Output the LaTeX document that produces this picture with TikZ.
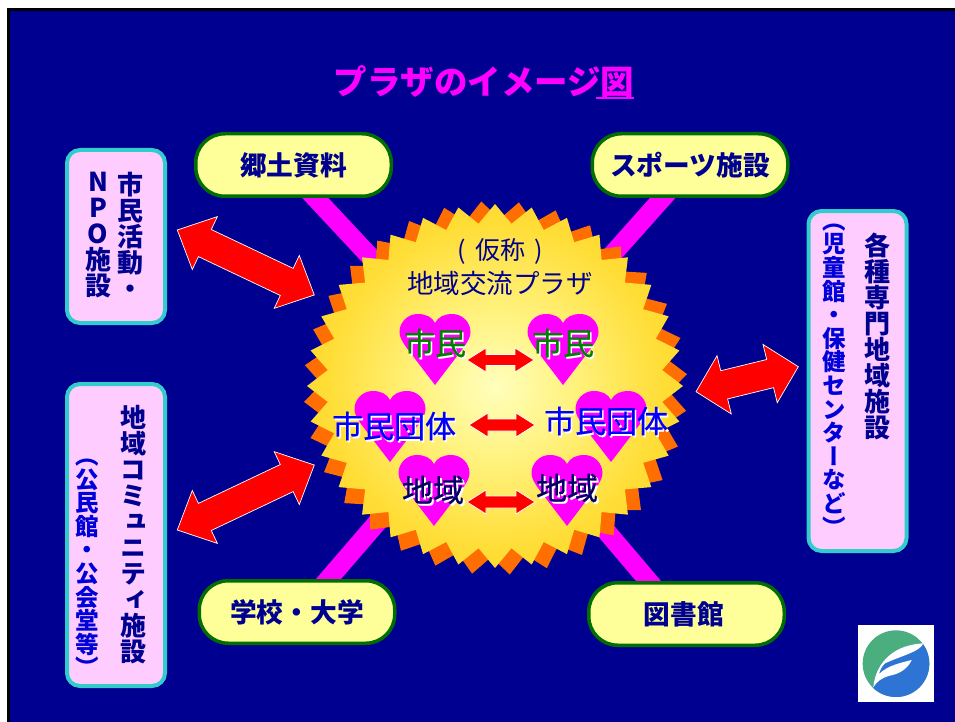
\documentclass[tikz,border=0pt]{standalone}
\usepackage{fontspec}
\usetikzlibrary{calc}
\setmainfont{Noto Sans CJK JP}
\newfontfamily\vfont[RawFeature=+vert]{Noto Sans CJK JP}
\newfontfamily\semifont[FakeBold=0.5]{Noto Sans CJK JP}
\definecolor{navy}{HTML}{000090}
\definecolor{mag}{HTML}{FF00FF}
\definecolor{pillfill}{HTML}{FFFF99}
\definecolor{pillline}{HTML}{006F00}
\definecolor{cardfill}{HTML}{FFCCFF}
\definecolor{cardline}{HTML}{33CCCC}
\definecolor{burstorange}{HTML}{FF6E00}
\definecolor{subblue}{HTML}{0000D8}
\definecolor{logogreen}{HTML}{4BAE7E}
\definecolor{logoblue}{HTML}{2E74D4}
\pgfdeclareradialshading{burstshade}{\pgfpoint{0bp}{0bp}}{%
 rgb(0bp)=(1,1,0.74);
 rgb(10bp)=(1,0.95,0.5);
 rgb(22bp)=(1,0.87,0.22);
 rgb(36bp)=(1,0.81,0.09);
 rgb(50bp)=(1,0.785,0.0)}
\pgfdeclarelayer{backdrop}
\pgfdeclarelayer{bars}
\pgfsetlayers{backdrop,bars,main}
\def\vtloop#1{\ifx#1\vtend\else\hbox to1.2em{\hss#1\hss}\expandafter\vtloop\fi}
\def\vstack#1#2#3{\vbox{\vfont\fontsize{#1}{#1}\selectfont\baselineskip=#2pt\lineskiplimit=-1000pt\relax\vtloop#3\vtend}}
\newcommand\blockarrow[5]{%
 \coordinate (p1) at ($(#1)!#3pt!(#2)$);
 \coordinate (p2) at ($(#2)!#3pt!(#1)$);
 \draw[blockarr] (#1) -- ($(p1)!#5pt!90:(#2)$) -- ($(p1)!#4pt!90:(#2)$)
   -- ($(p2)!#4pt!-90:(#1)$) -- ($(p2)!#5pt!-90:(#1)$) -- (#2)
   -- ($(p2)!#5pt!90:(#1)$) -- ($(p2)!#4pt!90:(#1)$)
   -- ($(p1)!#4pt!-90:(#2)$) -- ($(p1)!#5pt!-90:(#2)$) -- cycle;}
\newcommand\heartat[2]{%
 \fill[mag,shift={(#1,#2)}] (0,71) -- (-29,33) .. controls (-33,27) and (-35.5,23) .. (-35.5,18)
  .. controls (-35.5,8) and (-27,0) .. (-17.5,0) .. controls (-9,0) and (-3,3) .. (0,9)
  .. controls (3,3) and (9,0) .. (17.5,0) .. controls (27,0) and (35.5,8) .. (35.5,18)
  .. controls (35.5,23) and (33,27) .. (29,33) -- cycle;}
\tikzset{
 x=1pt,y=-1pt,
 pill/.style={draw=pillline,fill=pillfill,line width=3.5pt,rounded corners=29pt,minimum width=195.5pt,minimum height=62.5pt,inner sep=0pt,text=navy,font=\fontsize{26.7}{27}\selectfont\bfseries},
 card/.style={draw=cardline,fill=cardfill,line width=4pt,rounded corners=13pt,inner sep=0pt,minimum width=98pt},
 bar/.style={mag,line width=19pt},
 blockarr/.style={fill=red,draw=white,line width=.7pt,line join=miter},
 plain/.style={inner sep=0pt,outer sep=0pt},
 stackA/.style={plain,text=navy,font=\bfseries},
 stackB/.style={plain,text=subblue,font=\bfseries},
 hearttext/.style={plain,font=\semifont\fontsize{31}{31}\selectfont},
 shadowtext/.style={plain,text=white,font=\semifont\fontsize{31}{31}\selectfont},
}
\begin{document}
\begin{tikzpicture}
\useasboundingbox (0,0) rectangle (955,722);
\begin{pgfonlayer}{backdrop}
 \fill[white] (0,0) rectangle (955,722);
 \fill[black] (7,8) rectangle (955,722);
 \fill[navy] (10,11) rectangle (955,722);
\end{pgfonlayer}

\coordinate (burst) at (495,386);

% starbursts
\fill[burstorange] plot[samples at={0,...,63},variable=\k] ({495.5+(mod(\k,2)==0?192:174)*cos(\k*5.625+97)},{388+(mod(\k,2)==0?187:169)*sin(\k*5.625+97)}) -- cycle;
\path[shading=burstshade] plot[samples at={0,...,63},variable=\k] ({495+(mod(\k,2)==0?188:168)*cos(\k*5.625)},{386+(mod(\k,2)==0?182:163)*sin(\k*5.625)}) -- cycle;

% pills
\node[pill] (kyodo) at (293.5,165) {郷土資料};
\node[pill] (sports) at (690,165) {スポーツ施設};
\node[pill] (school) at (297,612) {\raisebox{-2pt}{学校・大学}};
\node[pill] (library) at (686.5,614) {\raisebox{-2pt}{図書館}\kern5pt};

% cards
\node[card,minimum height=173pt] (npo) at (116,236.5) {};
\node[card,minimum height=302pt] (community) at (116,535) {};
\node[card,minimum height=340pt] (special) at (857.5,381) {};

% bars
\begin{pgfonlayer}{bars}
 \draw[bar] ($(kyodo)+(-9,0)$) -- ($(burst)+(-4,0)$);
 \draw[bar] ($(sports)+(2,0)$) -- (burst);
 \draw[bar] ($(school)+(3,0)$) -- (burst);
 \draw[bar] ($(library)+(-10,0)$) -- ($(burst)+(-12,0)$);
\end{pgfonlayer}

% title
\node[plain,text=mag,font=\fontsize{33.5}{34}\selectfont\bfseries] (title) at (484,82) {プラザのイメージ図};
\draw[mag,line width=2pt] ($(title.south east)+(-38,0)$) -- (title.south east);

% burst heading
\node[plain,text=navy,font=\fontsize{25}{25}\selectfont] (kasho) at (500,251) {(\hspace{9pt}仮称\hspace{9pt})};
\node[plain,text=navy,font=\fontsize{26.5}{26.5}\selectfont] (koryu) at (500,283) {地域交流プラザ};

% hearts
\heartat{435}{314}
\heartat{563}{314}
\heartat{390}{391}
\heartat{611}{391}
\heartat{434}{455}
\heartat{567}{455}

% heart labels
\node[shadowtext] (sa) at (436.5,345) {市民};
\node[shadowtext] (sb) at (564.5,345) {市民};
\node[hearttext,text=green!50!black] (ta) at (435,343) {市民};
\node[hearttext,text=green!50!black] (tb) at (563,343) {市民};
\node[shadowtext] (sc) at (395.5,428) {市民団体};
\node[shadowtext] (sd) at (607.5,423) {市民団体};
\node[hearttext,text=blue] (tc) at (394,426) {市民団体};
\node[hearttext,text=blue] (td) at (606,421) {市民団体};
\node[shadowtext] (se) at (435,492) {地域};
\node[shadowtext] (sf) at (569,490) {地域};
\node[hearttext,text=navy!70!black] (te) at (433,490) {地域};
\node[hearttext,text=navy!70!black] (tf) at (567,488) {地域};

% small arrows
\coordinate (aL) at (467,360); \coordinate (aR) at (534,360);
\coordinate (bL) at (469,425); \coordinate (bR) at (535,425);
\coordinate (cL) at (467,502); \coordinate (cR) at (535,502);
\blockarrow{aL}{aR}{19}{5.5}{12}
\blockarrow{bL}{bR}{19}{6}{12}
\blockarrow{cL}{cR}{19}{6}{12}

% big arrows
\coordinate (npoEnd) at (177.3,230); \coordinate (npoBurst) at (314.3,295);
\coordinate (comEnd) at (177.3,530); \coordinate (comBurst) at (314.3,465);
\coordinate (speEnd) at (798.3,366.7); \coordinate (speBurst) at (696,391.7);
\blockarrow{npoEnd}{npoBurst}{30.5}{15}{29.3}
\blockarrow{comEnd}{comBurst}{30.5}{15}{29.3}
\blockarrow{speBurst}{speEnd}{29}{14.5}{30}

% vertical labels
\node[stackA] (npoA) at (130,235) {\vstack{26}{26}{市民活動・}};
\node[stackA] (npoB) at (98,235) {\vstack{26}{26.2}{NPO施設}};
\node[stackA] (comA) at (133,534.5) {\vstack{26}{26}{地域コミュニティ施設}};
\node[stackB] (comB) at (87,568) {\vstack{23.5}{23.6}{（公民館・公会堂等）}};
\node[stackA] (speA) at (877,336) {\vstack{26}{26}{各種専門地域施設}};
\node[stackB] (speB) at (834,380) {\vstack{23.5}{23.6}{（児童館・保健センターなど）}};

% logo
\fill[white] (858,625) rectangle (934,702);
\begin{scope}[shift={(840,610)},x=.3333pt,y=-.3333pt]
 \coordinate (logoC) at (168,161);
 \fill[logogreen] (logoC) circle[radius=100];
 \begin{scope}
  \clip (logoC) circle[radius=100];
  \fill[logoblue] (100,232) .. controls (104,175) and (145,105) .. (250,100) -- (290,95) -- (290,290) -- (100,290) -- cycle;
 \end{scope}
 \fill[white] (100,232) .. controls (104,175) and (145,105) .. (250,100)
   .. controls (240,125) and (190,135) .. (135,160)
   .. controls (125,170) and (120,180) .. (117,192)
   .. controls (145,165) and (185,158) .. (215,150)
   .. controls (205,172) and (185,190) .. (150,197)
   .. controls (125,203) and (110,215) .. (100,232) -- cycle;
\end{scope}
\end{tikzpicture}
\end{document}
